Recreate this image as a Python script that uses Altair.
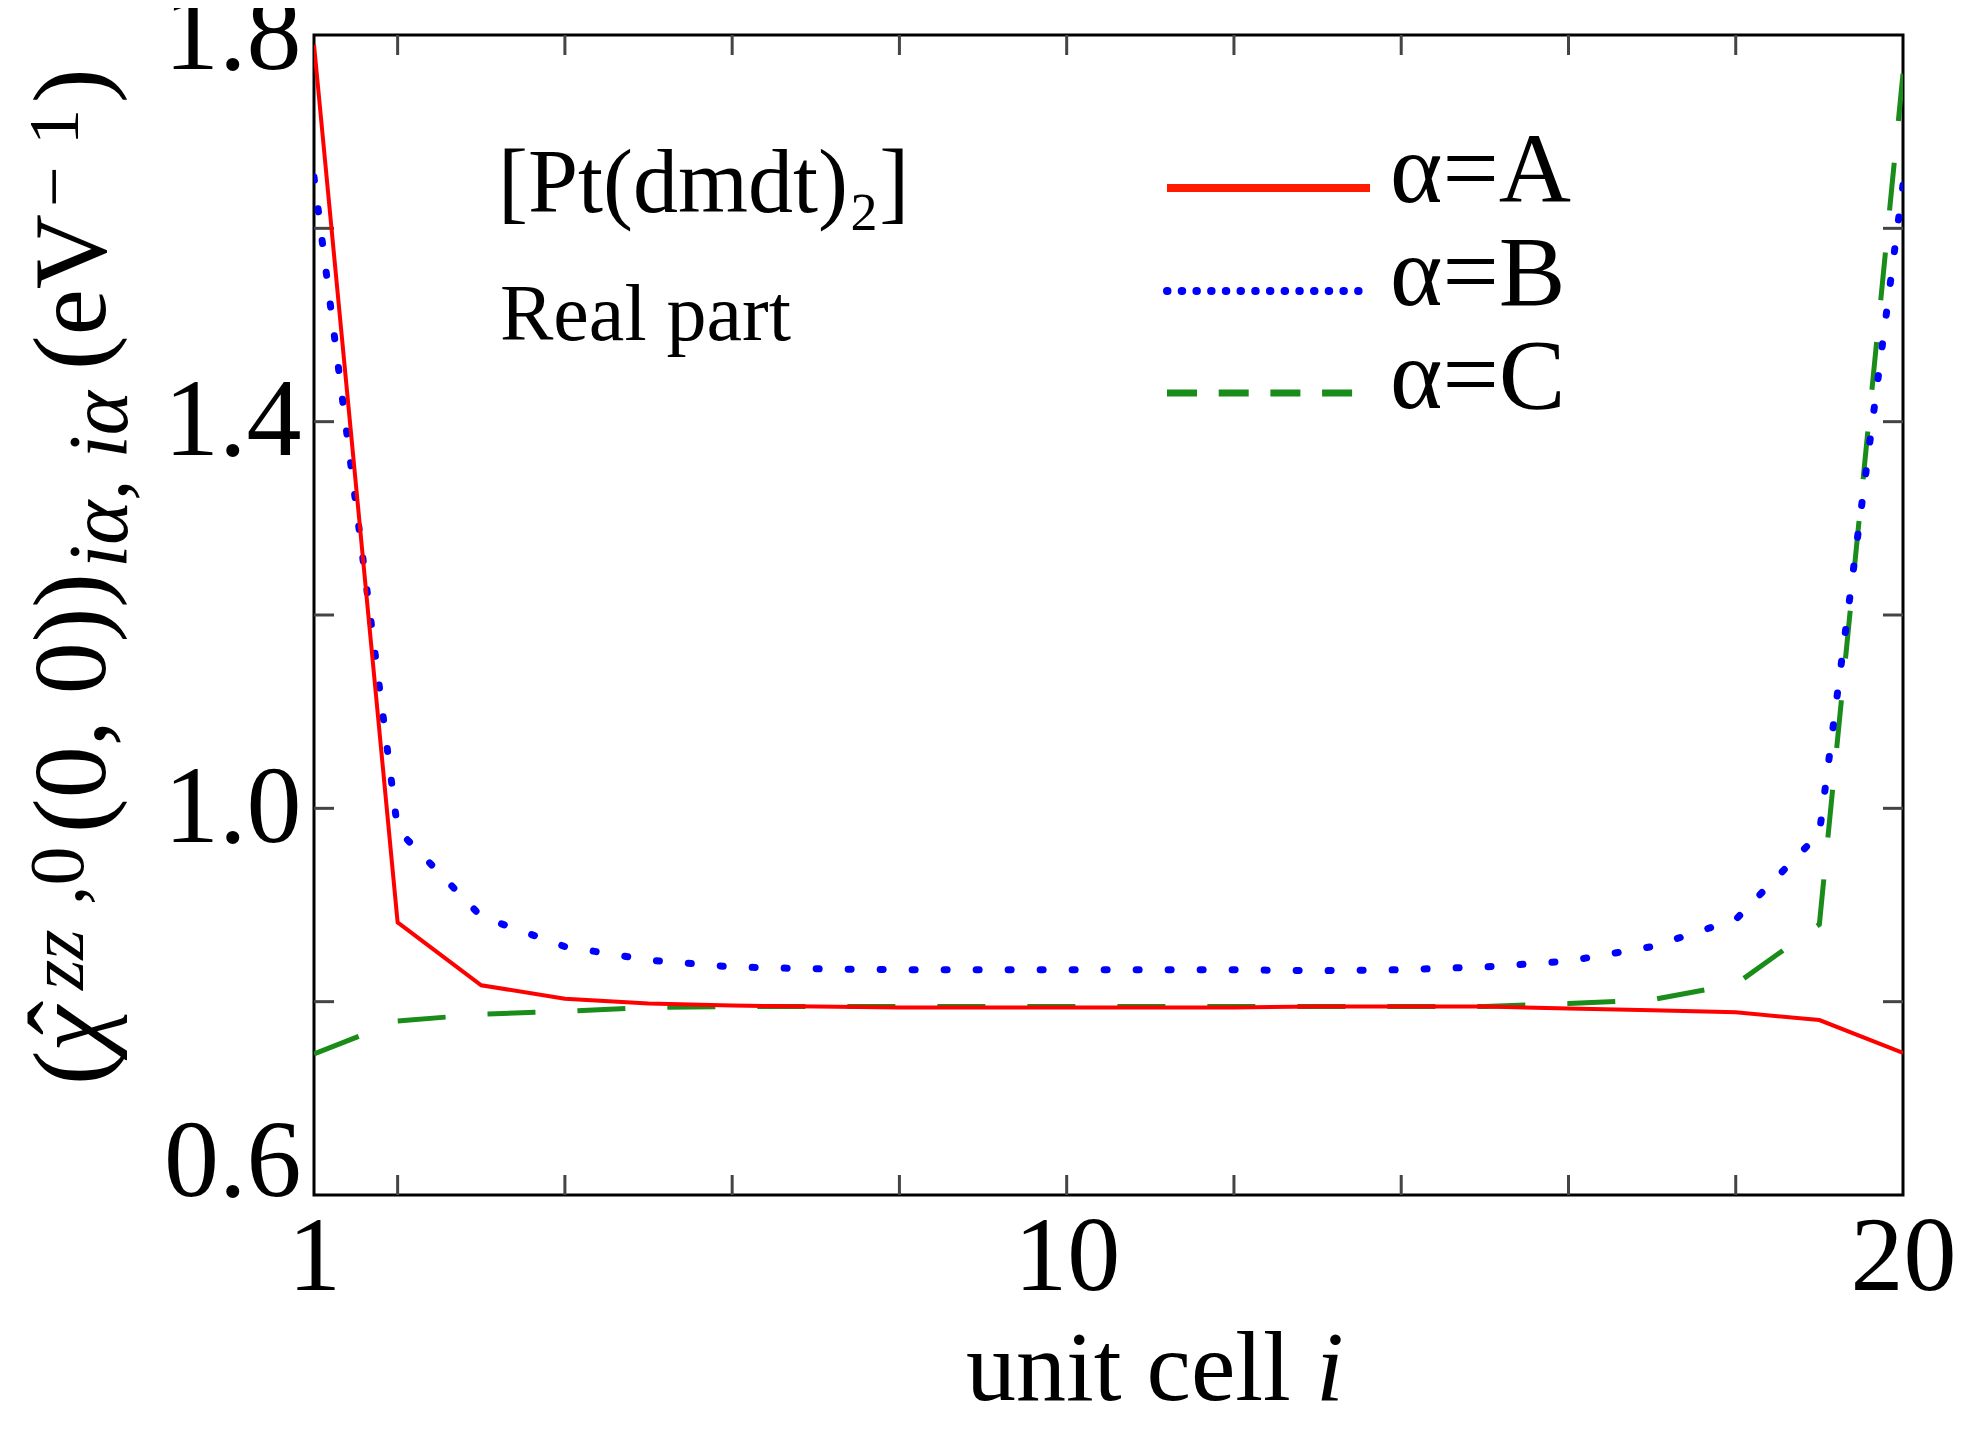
import altair as alt
import pandas as pd

# ---------------- data ----------------
cells = list(range(1, 21))
alpha_A = [1.790, 0.882, 0.817, 0.803, 0.798, 0.796, 0.795, 0.794, 0.794, 0.794,
           0.794, 0.794, 0.795, 0.795, 0.795, 0.793, 0.791, 0.789, 0.781, 0.747]
alpha_B = [1.653, 0.978, 0.888, 0.857, 0.843, 0.836, 0.834, 0.833, 0.833, 0.833,
           0.833, 0.833, 0.832, 0.833, 0.836, 0.842, 0.857, 0.885, 0.974, 1.645]
alpha_C = [0.746, 0.780, 0.787, 0.790, 0.794, 0.795, 0.795, 0.795, 0.795, 0.795,
           0.795, 0.795, 0.795, 0.795, 0.795, 0.798, 0.802, 0.818, 0.880, 1.760]
series_names = ["α=A", "α=B", "α=C"]
x_label_values = [1, 10, 20]
y_label_values = [0.6, 1.0, 1.4, 1.8]
x_minor_ticks = [2, 4, 6, 8, 10, 12, 14, 16, 18]
y_minor_ticks = [0.8, 1.0, 1.2, 1.4, 1.6]
annotations = ["[Pt(dmdt)₂]", "Real part"]
x_title_parts = ["unit cell", "i"]
y_title_parts = ["(", "χ", "ˆ", "zz", ",0", "(0, 0))", "iα, iα", "(eV", "−", "1", ")"]

# ---------------- layout ----------------
W, H = 1589, 1160
FONT = "Liberation Serif"
RED, BLUE, GREEN = "#ff0000", "#0000ff", "#1a8c1a"

xscale = alt.Scale(domain=[1, 20], nice=False, zero=False)
yscale = alt.Scale(domain=[0.6, 1.8], nice=False, zero=False)

x_axis = alt.Axis(values=x_label_values, format="d", title=None, grid=False,
                  domain=False, ticks=False, tickSize=0, labelFont=FONT,
                  labelFontSize=106, labelColor="black", labelPadding=10,
                  labelBaseline="top", labelFlush=False, labelOverlap=False)
y_axis = alt.Axis(values=y_label_values, format=".1f", title=None, grid=False,
                  domain=False, ticks=False, tickSize=0, labelFont=FONT,
                  labelFontSize=110, labelColor="black", labelPadding=13,
                  labelFlush=False, labelOverlap=False,
                  labelBaseline={"expr": "datum.value < 0.61 ? 'alphabetic' : 'middle'"})


def series_line(vals, color, width, dash=None, cap="butt"):
    df = pd.DataFrame({"cell": cells, "value": vals})
    kw = dict(color=color, strokeWidth=width, strokeCap=cap, clip=True)
    if dash is not None:
        kw["strokeDash"] = dash
    return alt.Chart(df).mark_line(**kw).encode(
        x=alt.X("cell:Q", scale=xscale, axis=x_axis),
        y=alt.Y("value:Q", scale=yscale, axis=y_axis),
    )


def text_mark(s, x, y, size, angle=0, italic=False, align="left", baseline="alphabetic"):
    df = pd.DataFrame({"t": [s]})
    return alt.Chart(df).mark_text(
        font=FONT, fontSize=size, fontStyle="italic" if italic else "normal",
        align=align, baseline=baseline, angle=angle, color="black",
    ).encode(text="t:N", x=alt.value(x), y=alt.value(y))


def legend_line(color, width, y, dash=None, cap="butt"):
    df = pd.DataFrame({"k": [0]})
    kw = dict(color=color, strokeWidth=width, strokeCap=cap)
    if dash is not None:
        kw["strokeDash"] = dash
    return alt.Chart(df).mark_rule(**kw).encode(
        x=alt.value(853), x2=alt.value(1056), y=alt.value(y))


layers = []

# inward minor ticks (bottom/top/left/right)
xt = pd.DataFrame({"cell": x_minor_ticks})
yt = pd.DataFrame({"value": y_minor_ticks})
tick_style = dict(color="#444444", strokeWidth=3)
layers.append(alt.Chart(xt).mark_rule(**tick_style).encode(
    x=alt.X("cell:Q", scale=xscale, axis=x_axis), y=alt.value(H), y2=alt.value(H - 20)))
layers.append(alt.Chart(xt).mark_rule(**tick_style).encode(
    x=alt.X("cell:Q", scale=xscale, axis=x_axis), y=alt.value(0), y2=alt.value(20)))
layers.append(alt.Chart(yt).mark_rule(**tick_style).encode(
    y=alt.Y("value:Q", scale=yscale, axis=y_axis), x=alt.value(0), x2=alt.value(20)))
layers.append(alt.Chart(yt).mark_rule(**tick_style).encode(
    y=alt.Y("value:Q", scale=yscale, axis=y_axis), x=alt.value(W), x2=alt.value(W - 20)))

# data lines
layers.append(series_line(alpha_C, GREEN, 5, dash=[48, 42]))
layers.append(series_line(alpha_B, BLUE, 7, dash=[3, 29], cap="round"))
layers.append(series_line(alpha_A, RED, 4))

# annotations
layers.append(text_mark(annotations[0], 184, 177, 90))
layers.append(text_mark(annotations[1], 186, 305, 80))

# legend
layers.append(legend_line("#ff1a00", 8, 153))
layers.append(legend_line(BLUE, 8, 256, dash=[0.5, 14.2], cap="round"))
layers.append(legend_line(GREEN, 7, 358, dash=[30, 21.7]))
for name, yb in zip(series_names, [167, 270, 373]):
    layers.append(text_mark(name, 1076, yb, 100))

# x title
layers.append(text_mark(x_title_parts[0], 652, 1365, 100))
layers.append(text_mark(x_title_parts[1], 1002, 1365, 100, italic=True))

# y title (rotated, composed from pieces)
yt_specs = [
    # text, x(baseline), y(start), size, italic, align
    (y_title_parts[0], -209, 1050, 104, False, "left"),
    (y_title_parts[1], -209, 1017, 104, True, "left"),
    (y_title_parts[2], -214, 983, 104, False, "center"),
    (y_title_parts[3], -231, 955, 78, True, "left"),
    (y_title_parts[4], -231, 870, 78, False, "left"),
    (y_title_parts[5], -209, 798, 104, False, "left"),
    (y_title_parts[6], -187, 533, 84, True, "left"),
    (y_title_parts[7], -209, 335, 104, False, "left"),
    (y_title_parts[8], -236, 172, 72, False, "left"),
    (y_title_parts[9], -236, 110, 72, False, "left"),
    (y_title_parts[10], -209, 68, 104, False, "left"),
]
for s, x, y, size, it, al in yt_specs:
    layers.append(text_mark(s, x, y, size, angle=270, italic=it, align=al))

chart = alt.layer(*layers).properties(
    width=W, height=H,
    padding={"left": 306, "top": 27, "right": 54, "bottom": 227},
    autosize=alt.AutoSizeParams(type="none"),
    background="white",
).configure_view(stroke="black", strokeWidth=3)

chart.save("out.html", embed_options={"renderer": "svg", "actions": False})
